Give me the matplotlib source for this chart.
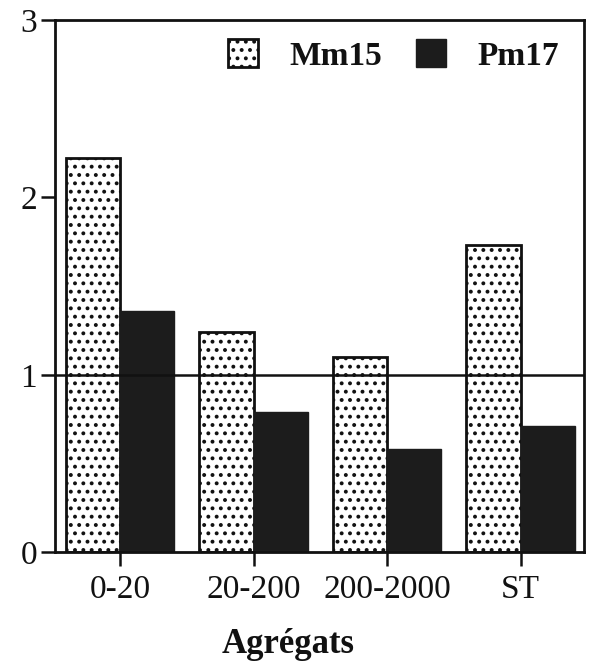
import numpy as np
import matplotlib.pyplot as plt
import matplotlib as mpl

mpl.rcParams['hatch.linewidth'] = 1.6
plt.rcParams['font.family'] = ['Liberation Serif', 'DejaVu Serif']

categories = ['0-20', '20-200', '200-2000', 'ST']
mm15 = [2.22, 1.24, 1.10, 1.73]
pm17 = [1.36, 0.79, 0.58, 0.71]

x = np.arange(len(categories))
w = 0.405

fig = plt.figure(figsize=(5.89, 6.70), dpi=100)
ax = fig.add_axes([0.0934, 0.176, 0.898, 0.794])

ax.bar(x - w / 2, mm15, w, facecolor='white', edgecolor='#111111',
       hatch='..', linewidth=2, label='Mm15', zorder=2)
ax.bar(x + w / 2, pm17, w, color='#1c1c1c', edgecolor='#1c1c1c',
       linewidth=1, label='Pm17', zorder=2)

ax.axhline(1, color='#111111', linewidth=1.8, zorder=3)

ax.set_xlim(-0.487, 3.475)
ax.set_ylim(0, 3)
ax.set_yticks([0, 1, 2, 3])
ax.set_xticks(x)
ax.set_xticklabels(categories)
ax.tick_params(axis='both', labelsize=24, width=1.8, length=10,
               color='#111111', labelcolor='#111111', direction='out')
ax.tick_params(axis='x', pad=6)
ax.tick_params(axis='y', pad=3)
for s in ax.spines.values():
    s.set_linewidth(2)
    s.set_color('#111111')

ax.set_xlabel('Agrégats', fontsize=25, fontweight='bold', color='#111111')
ax.xaxis.set_label_coords(0.44, -0.142)

leg = ax.legend(loc='upper right', ncol=2, frameon=False,
                prop={'size': 24, 'weight': 'bold'},
                handlelength=0.9, handleheight=0.9, columnspacing=1.0,
                handletextpad=0.95, bbox_to_anchor=(1.01, 1.02))
for t in leg.get_texts():
    t.set_color('#111111')

fig.savefig('out.png', dpi=100)
